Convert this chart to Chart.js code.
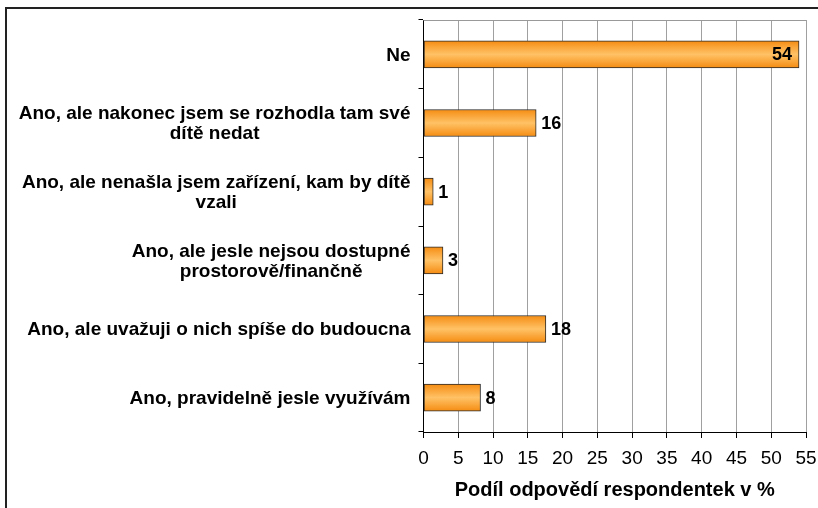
<!DOCTYPE html>
<html lang="cs">
<head>
    <meta charset="UTF-8">
    <title>Využití jeslí</title>
    <script src="https://cdn.jsdelivr.net/npm/chart.js"></script>
    <style>
        html, body { margin: 0; padding: 0; background: #fff; }
        #wrap { position: relative; width: 818px; height: 508px; overflow: hidden; }
        #frame { position: absolute; left: 5px; top: 7px; width: 900px; height: 600px;
                 border-left: 2px solid #222; border-top: 2px solid #222; }
        #chartBox { position: absolute; left: 0; top: 0; width: 818px; height: 508px; }
    </style>
</head>
<body>

<div id="wrap">
    <div id="frame"></div>
    <div id="chartBox"><canvas id="jesleChart"></canvas></div>
</div>

<script>
// categories (top to bottom) and shares in %
const categories = [
    'Ne',
    ['Ano, ale nakonec jsem se rozhodla tam své', 'dítě nedat'],
    ['Ano, ale nenašla jsem zařízení, kam by dítě', 'vzali'],
    ['Ano, ale jesle nejsou dostupné', 'prostorově/finančně'],
    'Ano, ale uvažuji o nich spíše do budoucna',
    'Ano, pravidelně jesle využívám'
];
const shares = [54, 16.2, 1.4, 2.8, 17.6, 8.2];
const xTicks = [0, 5, 10, 15, 20, 25, 30, 35, 40, 45, 50, 55];
const xTitle = 'Podíl odpovědí respondentek v %';

const FONT = '"Liberation Sans", Arial, sans-serif';
const BAR_H = 27;

// orange bar with a light band in the middle
function barGradient(ctx) {
    const chart = ctx.chart;
    const y = chart.scales.y;
    if (!y || ctx.dataIndex === undefined) return '#f7941d';
    const cy = y.getPixelForValue(ctx.dataIndex);
    if (!isFinite(cy)) return '#f7941d';
    const g = chart.ctx.createLinearGradient(0, cy - BAR_H / 2, 0, cy + BAR_H / 2);
    g.addColorStop(0, '#f58c12');
    g.addColorStop(0.5, '#ffc266');
    g.addColorStop(1, '#f58c12');
    return g;
}

// value labels next to (or inside, for the long one) each bar
const valueLabels = {
    id: 'valueLabels',
    afterDatasetsDraw(chart) {
        const ctx = chart.ctx;
        const meta = chart.getDatasetMeta(0);
        ctx.save();
        ctx.font = 'bold 18px ' + FONT;
        ctx.fillStyle = '#000';
        ctx.textBaseline = 'middle';
        meta.data.forEach((bar, i) => {
            const txt = String(Math.round(shares[i]));
            if (shares[i] > 40) {
                ctx.textAlign = 'right';
                ctx.fillText(txt, bar.x - 7, bar.y + 1);
            } else {
                ctx.textAlign = 'left';
                ctx.fillText(txt, bar.x + 5, bar.y + 1);
            }
        });
        ctx.restore();
    }
};

// category labels: block right-aligned to the axis, lines centred inside the block
const categoryLabels = {
    id: 'categoryLabels',
    afterDraw(chart) {
        const ctx = chart.ctx;
        const y = chart.scales.y;
        const right = y.right - 13;
        const lh = 20;
        ctx.save();
        ctx.font = 'bold 19px ' + FONT;
        ctx.fillStyle = '#000';
        ctx.textAlign = 'center';
        ctx.textBaseline = 'middle';
        categories.forEach((lab, i) => {
            const lines = Array.isArray(lab) ? lab : [lab];
            const w = Math.max(...lines.map(l => ctx.measureText(l).width));
            const cx = right - w / 2;
            const cy = y.getPixelForValue(i);
            const y0 = cy - (lines.length - 1) * lh / 2;
            lines.forEach((l, k) => ctx.fillText(l, cx, y0 + k * lh + 1));
        });
        ctx.restore();
    }
};

// thin grey line along the top of the plot area
const topBorder = {
    id: 'topBorder',
    beforeDatasetsDraw(chart) {
        const a = chart.chartArea;
        const ctx = chart.ctx;
        ctx.save();
        ctx.strokeStyle = '#999';
        ctx.lineWidth = 1;
        ctx.beginPath();
        ctx.moveTo(a.left, a.top + 0.5);
        ctx.lineTo(a.right, a.top + 0.5);
        ctx.stroke();
        ctx.restore();
    }
};

const ctx = document.getElementById('jesleChart').getContext('2d');
new Chart(ctx, {
    type: 'bar',
    data: {
        labels: categories,
        datasets: [{
            data: shares,
            backgroundColor: barGradient,
            borderColor: '#2a2a2a',
            borderWidth: 1,
            borderSkipped: false,
            barThickness: BAR_H
        }]
    },
    options: {
        indexAxis: 'y',
        responsive: true,
        maintainAspectRatio: false,
        animation: false,
        layout: { padding: { left: 12, right: 12, top: 20, bottom: 0 } },
        plugins: {
            legend: { display: false },
            tooltip: { enabled: false }
        },
        scales: {
            x: {
                min: 0,
                max: 55,
                afterBuildTicks: scale => { scale.ticks = xTicks.map(v => ({ value: v })); },
                afterFit: scale => {
                    scale.height = 76;
                    scale.paddingLeft = 0;
                    scale.paddingRight = 0;
                },
                grid: { color: '#a0a0a0', tickColor: '#000', tickLength: 6 },
                border: { color: '#000', width: 1 },
                ticks: {
                    color: '#000',
                    padding: 9,
                    maxRotation: 0,
                    autoSkip: false,
                    font: { family: FONT, size: 19 }
                },
                title: {
                    display: true,
                    text: xTitle,
                    color: '#000',
                    padding: { top: 6, bottom: 6 },
                    font: { family: FONT, size: 20, weight: 'bold' }
                }
            },
            y: {
                afterFit: scale => {
                    scale.width = 411.5;
                    scale.paddingTop = 0;
                    scale.paddingBottom = 0;
                },
                grid: { drawOnChartArea: false, tickColor: '#000', tickLength: 5, offset: true },
                border: { color: '#000', width: 1 },
                ticks: { display: false }
            }
        }
    },
    plugins: [valueLabels, categoryLabels, topBorder]
});
</script>

</body>
</html>
